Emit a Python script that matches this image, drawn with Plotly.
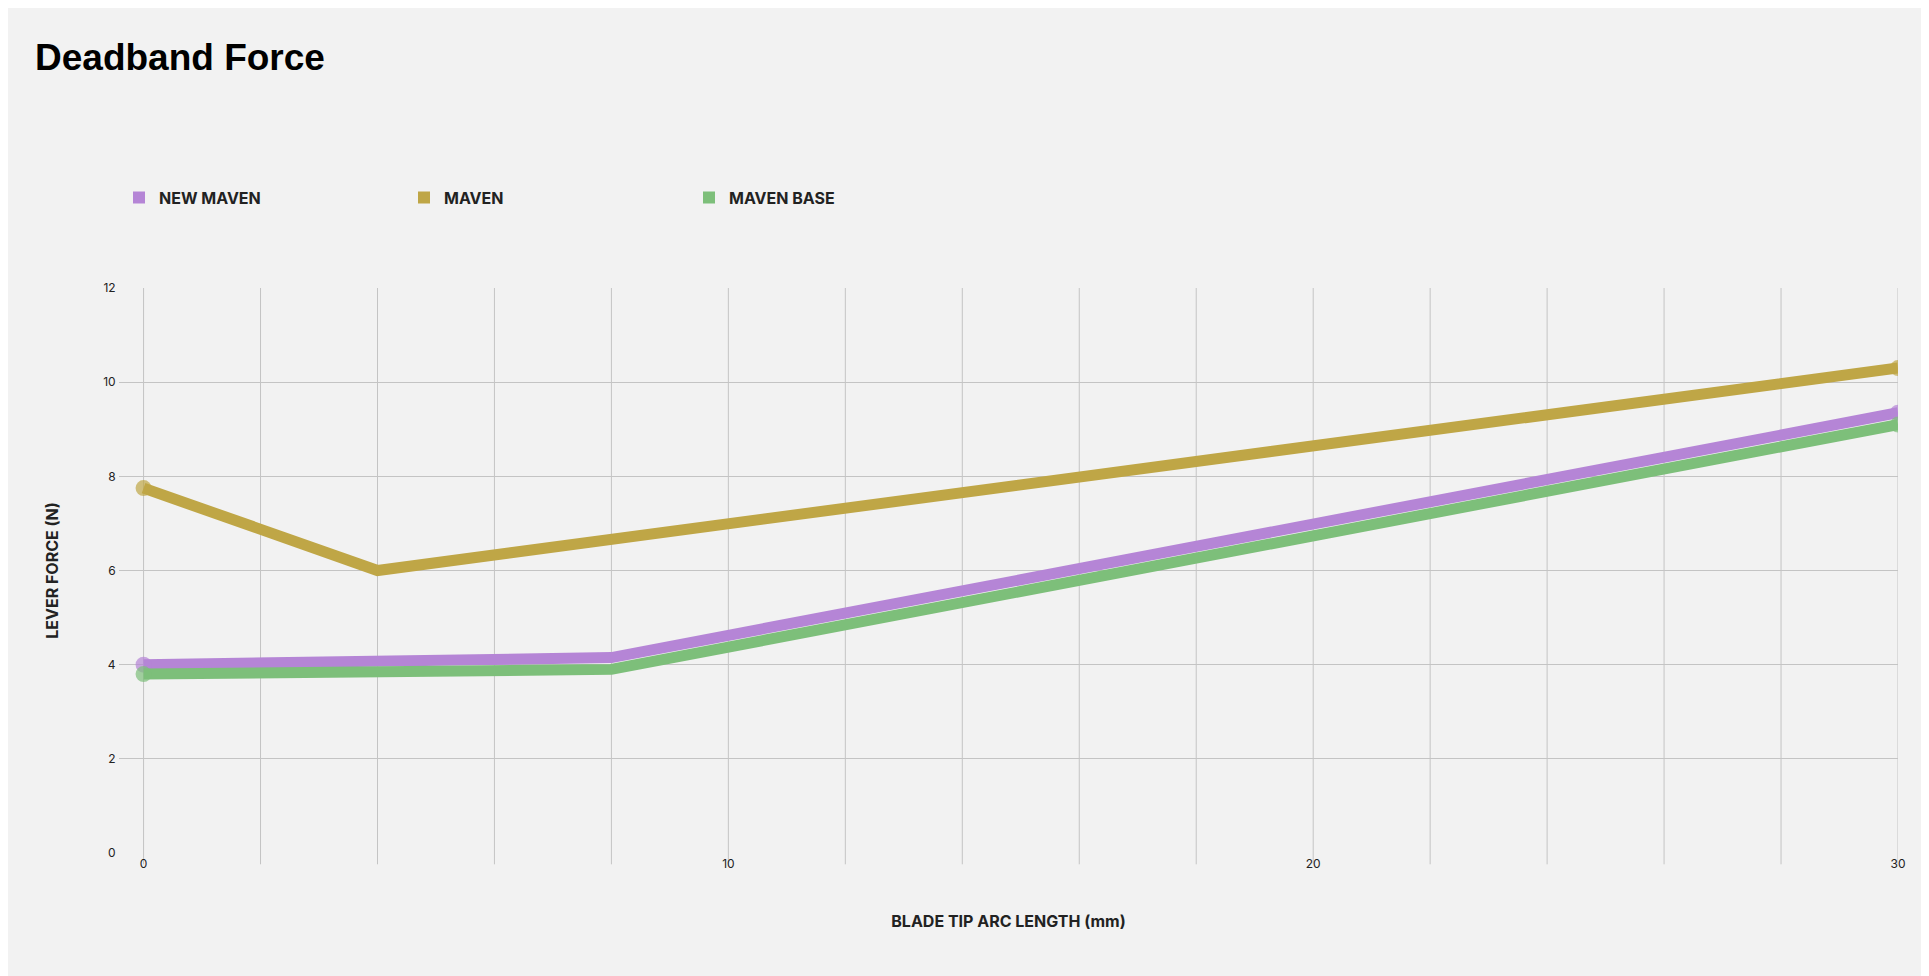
import plotly.graph_objects as go

# data
x_new = [0, 8, 30]
y_new = [4.0, 4.15, 9.35]
x_maven = [0, 4, 30]
y_maven = [7.75, 6.0, 10.3]
x_base = [0, 8, 30]
y_base = [3.8, 3.9, 9.1]

series = [
    ("NEW MAVEN", x_new, y_new, "#b585d6"),
    ("MAVEN", x_maven, y_maven, "#bfa646"),
    ("MAVEN BASE", x_base, y_base, "#7dbf7a"),
]

fig = go.Figure()
for name, xs, ys, col in series:
    sizes = [16 if i in (0, len(xs) - 1) else 0 for i in range(len(xs))]
    fig.add_scatter(x=xs, y=ys, name=name, mode="lines+markers", showlegend=False,
                    line=dict(color=col, width=11),
                    marker=dict(color=col, size=sizes, line=dict(width=0)))
    # square legend swatch
    fig.add_scatter(x=[None], y=[None], name="<b>" + name + "</b>", mode="markers",
                    marker=dict(color=col, size=14, symbol="square", line=dict(width=0)))

fig.update_layout(
    width=1929, height=976,
    paper_bgcolor="#f2f2f2", plot_bgcolor="#f2f2f2",
    margin=dict(l=111, r=39, t=280, b=131),
    font=dict(family="Inter, Liberation Sans, sans-serif", color="#222"),
    title=dict(text="<b>Deadband Force</b>", x=0.014, xanchor="left",
               y=0.95, yanchor="middle",
               font=dict(family="Liberation Sans, Arial", size=37, color="#000")),
    showlegend=True,
    legend=dict(orientation="h", x=0.0, xanchor="left", y=1.16, yanchor="middle",
                font=dict(size=16, color="#222"),
                entrywidth=240, traceorder="normal", itemsizing="constant"),
    xaxis=dict(range=[-0.42, 30], tickvals=[0, 10, 20, 30],
               showgrid=False, zeroline=False,
               ticks="outside", ticklen=0, tickfont=dict(size=12),
               title=dict(text="<b>BLADE TIP ARC LENGTH (mm)</b>",
                          font=dict(size=16), standoff=45)),
    yaxis=dict(range=[0, 12], dtick=2, gridcolor="#c4c4c4", gridwidth=1,
               zeroline=False, tickfont=dict(size=12),
               ticks="outside", ticklen=0,
               title=dict(text="<b>LEVER FORCE (N)</b>", font=dict(size=16),
                          standoff=40)),
)

# vertical grid every 2 mm, extending slightly below the axis
for v in range(0, 31, 2):
    fig.add_shape(type="line", xref="x", yref="paper", x0=v, x1=v, y0=-0.02, y1=1,
                  line=dict(color="#c4c4c4", width=1), layer="below")

fig.write_html("out.html")
